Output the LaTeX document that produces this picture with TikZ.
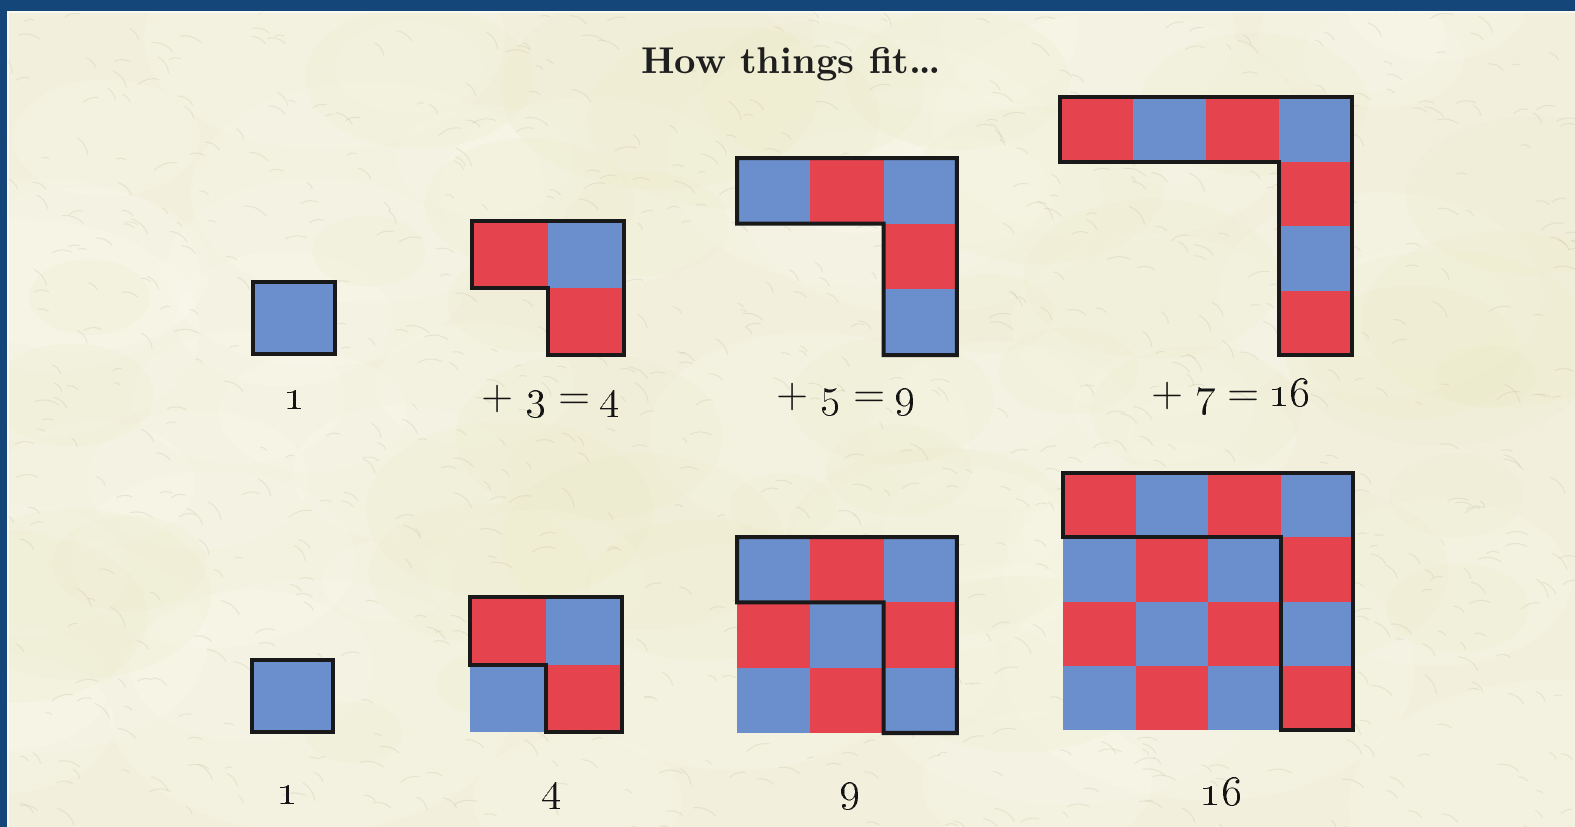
\documentclass[tikz,border=0pt]{standalone}
\usepackage{tikz}
\definecolor{bgcream}{HTML}{F2F0DD}
\definecolor{framebl}{HTML}{15467A}
\definecolor{cellred}{HTML}{E5444F}
\definecolor{cellblue}{HTML}{6B8FCC}
\definecolor{texdark}{HTML}{C4C0A2}
\definecolor{texlight}{HTML}{FBFAF0}
\definecolor{texyel}{HTML}{EAE8BE}
\tikzset{
  outline/.style={draw=black!90, line width=0.04cm, line join=miter},
  lbl/.style={font=\fontsize{12}{14}\selectfont, text=black!92, inner sep=0pt},
  ttl/.style={font=\fontsize{10.6}{13}\selectfont\bfseries, text=black!88, inner sep=0pt},
}
\newcommand{\eqlabel}[2]{+\hspace{0.28em}\oldstylenums{#1}\hspace{0.28em}=\hspace{0.22em}\oldstylenums{#2}}
% #1 x0, #2 y0, #3 w, #4 h, #5 n, #6 parity (0: first cell red), #7 full square (1) or gnomon (0)
\newcommand{\squareshape}[7]{%
  \foreach \i in {1,...,#5}{%
    \foreach \j in {1,...,#5}{%
      \pgfmathtruncatemacro\incl{#7+(\j==1)+(\i==#5)}%
      \ifnum\incl>0
        \pgfmathtruncatemacro\cpar{mod(\i+\j+#6,2)}%
        \ifnum\cpar=0
          \fill[cellred] ({#1+(\i-1)*#3},{#2+(\j-1)*#4}) rectangle ++(#3,#4);
        \else
          \fill[cellblue] ({#1+(\i-1)*#3},{#2+(\j-1)*#4}) rectangle ++(#3,#4);
        \fi
      \fi
    }%
  }%
  \draw[outline] (#1,#2) -- ++({#5*#3},0) -- ++(0,{#5*#4}) -- ++(-#3,0)
     -- ({#1+(#5-1)*#3},{#2+#4}) -- (#1,{#2+#4}) -- cycle;
}
\begin{document}
\begin{tikzpicture}[x=0.01cm,y=-0.01cm]
\useasboundingbox (0,0) rectangle (1575,827);
% background
\fill[bgcream] (0,0) rectangle (1575,827);
% texture
\pgfmathsetseed{11}
\foreach \k in {1,...,60}{%
  \pgfmathsetmacro\xx{rnd*1575}\pgfmathsetmacro\yy{rnd*827}\pgfmathsetmacro\rr{40+rnd*90}%
  \fill[texlight, opacity=0.2] (\xx,\yy) ellipse ({\rr*1.6} and \rr);
}
\foreach \k in {1,...,40}{%
  \pgfmathsetmacro\xx{rnd*1575}\pgfmathsetmacro\yy{rnd*827}\pgfmathsetmacro\rr{30+rnd*70}%
  \fill[texyel, opacity=0.14] (\xx,\yy) ellipse ({\rr*1.6} and \rr);
}
\foreach \k in {1,...,900}{%
  \pgfmathsetmacro\xx{rnd*1575}\pgfmathsetmacro\yy{rnd*827}%
  \pgfmathsetmacro\aa{20+rand*40}\pgfmathsetmacro\ll{6+rnd*18}%
  \draw[texdark, opacity=0.28, line width=0.3pt, line cap=round]
    (\xx,\yy) to[bend left=25] ++(\aa:\ll);
}
% frame
\fill[framebl] (0,0) rectangle (1575,11);
\fill[framebl] (0,0) rectangle (7,827);
\draw[white, opacity=0.6, line width=0.6pt] (7,12) -- (1575,12);
\draw[white, opacity=0.6, line width=0.6pt] (8,12) -- (8,827);
% title
\node[ttl] (title) at (791,64) {How things fit\dots};
% top row: gnomons
\squareshape{253}{282}{82}{72}{1}{1}{0}
\squareshape{472}{221}{76}{67}{2}{0}{0}
\squareshape{737}{158}{73.33}{65.67}{3}{1}{0}
\squareshape{1060}{97}{73}{64.5}{4}{0}{0}
% bottom row: full squares
\squareshape{252}{660}{81}{72}{1}{1}{1}
\squareshape{470}{597}{76}{67.5}{2}{0}{1}
\squareshape{737}{537}{73.33}{65.33}{3}{1}{1}
\squareshape{1063}{473}{72.5}{64.25}{4}{0}{1}
% labels
\node[lbl] (t1) at (295,400) {\oldstylenums{1}};
\node[lbl] (t2) at (551,401) {\eqlabel{3}{4}};
\node[lbl] (t3) at (846,399) {\eqlabel{5}{9}};
\node[lbl] (t4) at (1231,397) {\eqlabel{7}{16}};
\node[lbl] (b1) at (288,795) {\oldstylenums{1}};
\node[lbl] (b2) at (552,796) {\oldstylenums{4}};
\node[lbl] (b3) at (850,796) {\oldstylenums{9}};
\node[lbl] (b4) at (1221,792) {\oldstylenums{16}};
\end{tikzpicture}
\end{document}
